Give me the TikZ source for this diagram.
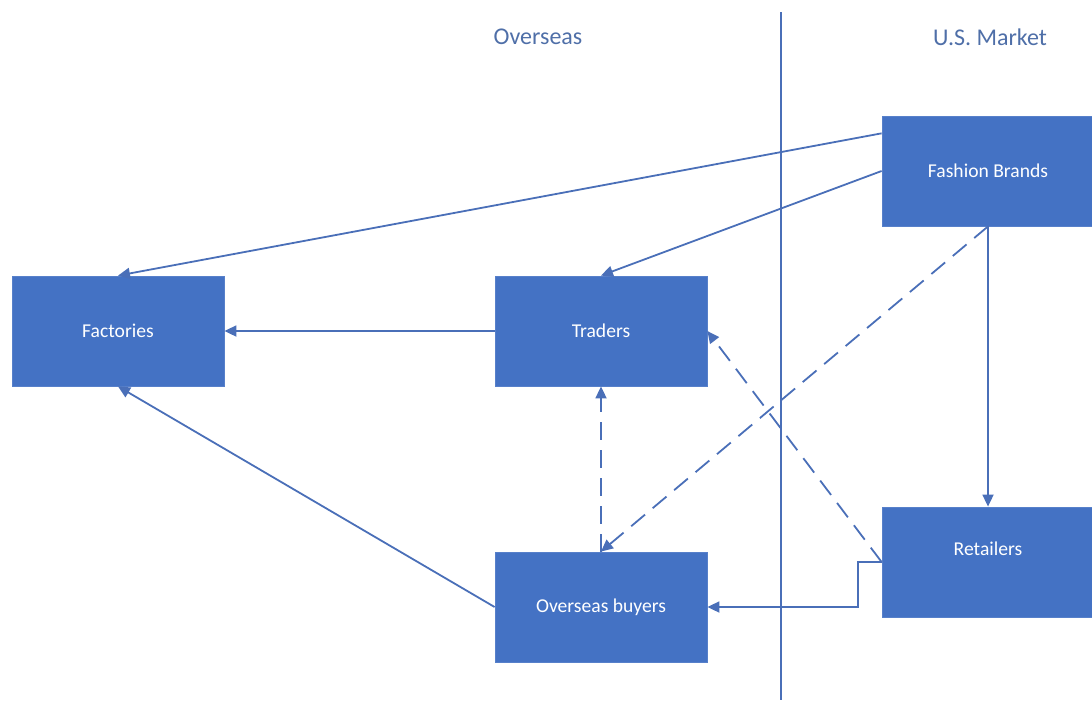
\documentclass[tikz,border=0pt]{standalone}
\usepackage{fontspec}
\setmainfont{Carlito}
\usetikzlibrary{arrows.meta,positioning,calc}
\definecolor{boxblue}{HTML}{4472C4}
\definecolor{lineblue}{HTML}{4A6FB8}
\definecolor{labelblue}{HTML}{4F6FA8}
\tikzset{
    actor/.style={fill=boxblue,draw=boxblue!90!white,minimum width=106pt,minimum height=55pt,inner sep=0pt,text=white,font=\fontsize{9.8}{12}\selectfont},
    region/.style={text=labelblue,font=\fontsize{12}{14}\selectfont},
    flow/.style={-{Triangle[length=6pt,width=5.5pt]},draw=lineblue,line width=0.9pt},
    weakflow/.style={flow,dash pattern=on 9pt off 5pt}
}
\begin{document}
\begin{tikzpicture}[x=0.5pt,y=-0.5pt]
    \useasboundingbox (0,0) rectangle (1092,702);
    % market divide
    \coordinate (divtop) at (781,12);
    \coordinate (divbot) at (781,700);
    \draw[lineblue,line width=0.9pt] (divtop) -- (divbot);
    \node[region] (overseas) at (538,37) {Overseas};
    \node[region] (usmarket) at (990,37) {U.S. Market};
    % actors
    \node[actor] (fac) at (118,331) {Factories};
    \node[actor] (trd) at (601,331) {Traders};
    \node[actor] (obuy) at (601,607) {Overseas buyers};
    \node[actor] (fb) at (988,171) {Fashion Brands};
    \node[actor,text depth=13pt] (ret) at (988,562) {Retailers};
    % flows
    \draw[flow] ($(fb.north west)!0.16!(fb.south west)$) -- (fac.north);
    \draw[flow] (fb.west) -- (trd.north);
    \draw[flow] (trd.west) -- (fac.east);
    \draw[flow] (obuy.west) -- (fac.south);
    \draw[flow] (fb.south) -- (ret.north);
    \draw[weakflow] (obuy.north) -- (trd.south);
    \draw[weakflow] (fb.south) -- (obuy.north);
    \draw[weakflow] (ret.west) -- (trd.east);
    \draw[flow] (ret.west) -- ++(-24,0) |- (obuy.east);
\end{tikzpicture}
\end{document}
